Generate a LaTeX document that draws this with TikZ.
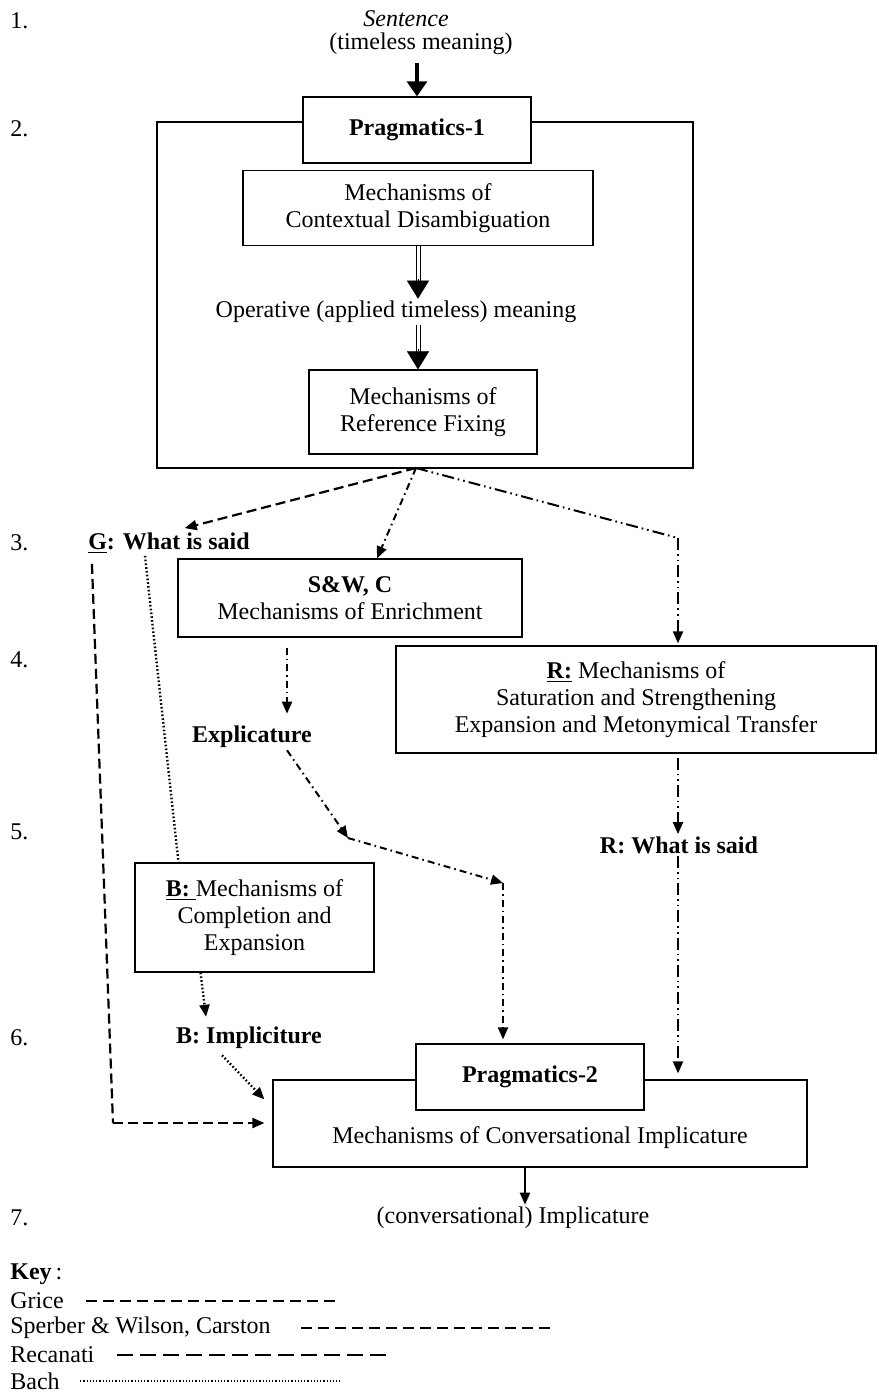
\documentclass[tikz,border=0pt]{standalone}
\usepackage{fontspec}
\setmainfont{Liberation Serif}
\usetikzlibrary{positioning, arrows.meta}

\begin{document}
\begin{tikzpicture}[
    x=0.5pt, y=-0.5pt,
    font=\fontsize{12}{13.5}\selectfont,
    box/.style={
        rectangle,
        draw,
        line width=0.6pt,
        fill=white,
        align=center,
        inner sep=0pt
    },
    txt/.style={align=center, inner sep=1pt},
    num/.style={anchor=west, inner sep=0pt},
    headtip/.style={-{Triangle[length=6pt,width=5pt]}},
    grice/.style={headtip, line width=1.1pt, dash pattern=on 5pt off 2.5pt},
    swc/.style={headtip, line width=1pt, dash pattern=on 3.5pt off 2pt on 0.8pt off 2pt},
    recan/.style={headtip, line width=1pt, dash pattern=on 6pt off 2pt on 0.8pt off 2pt on 0.8pt off 2pt},
    bach/.style={headtip, line width=1.2pt, dash pattern=on 0.8pt off 1.1pt},
    plain arrow/.style={headtip, line width=1pt},
    big arrow/.style={-{Triangle[length=7.5pt,width=10pt]}, line width=1.6pt},
    dbl shaft/.style={double, double distance=1.5pt, line width=0.5pt, shorten >=8pt},
    dbl head/.style={-{Triangle[length=9pt,width=11pt]}, line width=0.1pt}
]
\useasboundingbox (0,0) rectangle (878,1395);

% Level numbers
\node[num] (n1) at (10,21) {1.};
\node[num] (n2) at (10,129) {2.};
\node[num] (n3) at (10,543) {3.};
\node[num] (n4) at (10,660) {4.};
\node[num] (n5) at (10,832) {5.};
\node[num] (n6) at (10,1038) {6.};
\node[num] (n7) at (10,1218) {7.};

% Sentence
\node[txt, inner sep=0pt] (sent) at (406,19) {\textit{Sentence}};
\node[txt, inner sep=0pt] (timeless) at (421,44) {(timeless meaning)};

% Pragmatics-1
\node[box, minimum width=268pt, minimum height=173pt] (p1frame) at (425,295) {};
\node[box, minimum width=114pt, minimum height=33pt] (p1) at (417,130) {\textbf{Pragmatics-1}};
\node[box, minimum width=175pt, minimum height=37.5pt] (cd) at (418,208) {Mechanisms of\\Contextual Disambiguation};
\node[txt] (oper) at (396,312) {Operative (applied timeless) meaning};
\node[box, minimum width=114pt, minimum height=42pt] (rf) at (423,412) {Mechanisms of\\Reference Fixing};
\coordinate (src) at (416,468);

% Level 3 and 4
\node[txt] (gsaid) at (169,543) {\underline{\textbf{G}}\textbf{: What is said}};
\node[box, minimum width=172pt, minimum height=39pt] (swcbox) at (350,598) {\textbf{S\&W, C}\\Mechanisms of Enrichment};
\coordinate (rbend) at (678,538);
\node[box, minimum width=240pt, minimum height=53.5pt] (rbox) at (636,699.5) {\underline{\textbf{R:}} Mechanisms of\\Saturation and Strengthening\\Expansion and Metonymical Transfer};
\node[txt] (expl) at (252,737) {\textbf{Explicature}};
\node[txt] (rsaid) at (679,845) {\textbf{R: What is said}};
\coordinate (ecorner1) at (348,838);
\coordinate (ecorner2) at (503,883);

% Bach
\node[box, minimum width=119.5pt, minimum height=54.5pt] (bbox) at (254.5,917.5) {\underline{\textbf{B:}\ }Mechanisms of\\Completion and\\Expansion};
\node[txt] (bimpl) at (249,1038) {\textbf{B: Impliciture}};

% Pragmatics-2
\node[box, minimum width=267pt, minimum height=43.5pt] (p2frame) at (540,1123.5) {};
\node[box, minimum width=114pt, minimum height=33pt] (p2) at (530,1077) {\textbf{Pragmatics-2}};
\node[txt] (conv) at (540,1138) {Mechanisms of Conversational Implicature};
\node[txt] (impl) at (513,1218) {(conversational) Implicature};
\coordinate (gturn) at (113,1123);

% Arrows
\draw[big arrow] ([yshift=-4pt]p1.north |- timeless.south) -- (p1.north);
\draw[dbl shaft] (cd.south) -- (cd.south |- oper.north);
\draw[dbl head] (cd.south |- oper.north) ++(0,-20) -- (cd.south |- oper.north);
\draw[dbl shaft] (cd.south |- oper.south) -- (cd.south |- rf.north);
\draw[dbl head] (cd.south |- rf.north) ++(0,-20) -- (cd.south |- rf.north);
\draw[grice, shorten >=4pt] (src) -- ([xshift=4pt]gsaid.north);
\draw[grice, -] ([xshift=3pt,yshift=-4pt]gsaid.south west) -- (gturn);
\draw[grice, shorten >=4pt] (gturn) -- (gturn -| p2frame.west);
\draw[swc] (src) -- ([xshift=13.5pt]swcbox.north);
\draw[swc, shorten >=5pt] ([xshift=-31.5pt,yshift=-5pt]swcbox.south) -- ([xshift=-31.5pt]swcbox.south |- expl.north);
\draw[swc] ([xshift=17.5pt]expl.south) -- (ecorner1);
\draw[swc] (ecorner1) -- (ecorner2);
\draw[swc, shorten >=2pt] (ecorner2) -- (ecorner2 |- p2.north);
\draw[recan, -] (src) -- (rbend);
\draw[recan, shorten >=1pt] (rbend) -- (rbend |- rbox.north);
\draw[recan] ([yshift=-2pt]rbend |- rbox.south) -- (rbend |- rsaid.north);
\draw[recan, shorten >=3pt] (rbend |- rsaid.south) -- (rbend |- p2frame.north);
\draw[bach, -] ([xshift=-12pt]gsaid.south) -- ([xshift=-38pt]bbox.north);
\draw[bach, shorten >=4pt] ([xshift=-27pt]bbox.south) -- ([xshift=-21pt]bimpl.north);
\draw[bach] ([xshift=-13.5pt,yshift=-2pt]bimpl.south) -- ([xshift=-4pt,yshift=-10pt]p2frame.north west);
\draw[plain arrow] ([xshift=-7.5pt]p2frame.south) -- ([xshift=-7.5pt]p2frame.south |- impl.north);

% Key
\node[num] (key) at (10,1274) {\textbf{Key}\,:};
\node[num] (kgrice) at (10,1301) {Grice};
\node[num] (kswc) at (10,1328) {Sperber \& Wilson, Carston};
\node[num] (krecan) at (10,1355) {Recanati};
\node[num] (kbach) at (10,1381) {Bach};
\draw[grice, -, dash pattern=on 5.5pt off 3pt] ([xshift=11pt]kgrice.east) -- ++(252,0);
\draw[grice, -, dash pattern=on 5.5pt off 3pt] ([xshift=15pt]kswc.east) -- ++(252,0);
\draw[recan, -, line width=1.4pt, dash pattern=on 8pt off 3.5pt] ([xshift=11pt]krecan.east) -- ++(275,0);
\draw[bach, -, line width=0.9pt, dash pattern=on 0.6pt off 1pt] ([xshift=10pt]kbach.east) -- ++(260,0);

\end{tikzpicture}
\end{document}
